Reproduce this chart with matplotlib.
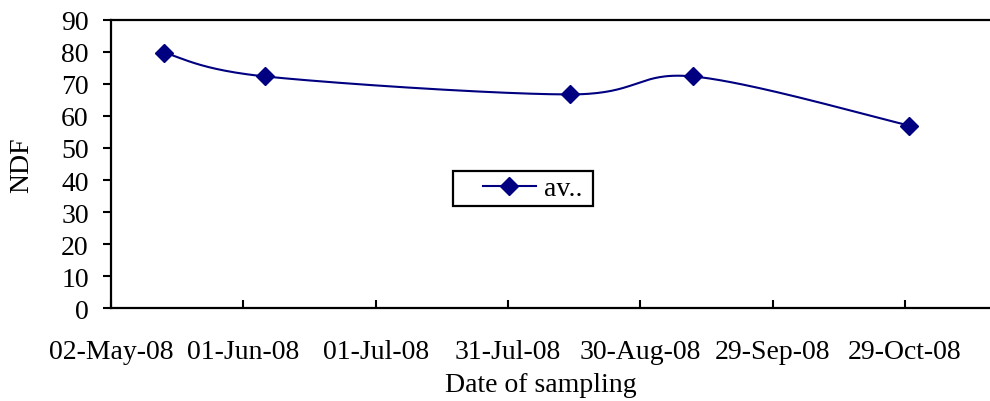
import datetime as dt
import numpy as np
import matplotlib
matplotlib.use("Agg")
import matplotlib.pyplot as plt
import matplotlib.dates as mdates
from matplotlib.patches import Rectangle
from matplotlib.lines import Line2D

# ---- data ----
sample_dates = ["2008-05-14", "2008-06-06", "2008-08-14", "2008-09-11", "2008-10-30"]
ndf_values = [79.7, 72.3, 66.7, 72.3, 57.0]
series_label = "av.."
tick_start = "2008-05-02"
tick_step_days = 30
n_ticks = 7
y_ticks = [0, 10, 20, 30, 40, 50, 60, 70, 80, 90]

plt.rcParams['font.family'] = ['Liberation Serif', 'DejaVu Serif']
navy = "#000080"
fs = 20

fig = plt.figure(figsize=(9.9, 4.02), dpi=100)
ax = fig.add_axes([111/990, (402-309.3)/402, (990-111)/990, (309.3-20.7)/402])

x = mdates.date2num([dt.datetime.fromisoformat(d) for d in sample_dates])
y = np.array(ndf_values, dtype=float)
t0 = mdates.date2num(dt.datetime.fromisoformat(tick_start))
ticks = [t0 + i * tick_step_days for i in range(n_ticks)]

ax.set_xlim(t0, t0 + (990 - 111) / 132.3 * tick_step_days)
ax.set_ylim(0, 90)
ax.set_xticks(ticks)
ax.xaxis.set_major_formatter(mdates.DateFormatter("%d-%b-%y"))
ax.set_yticks(y_ticks)

# Excel-style smoothed line computed in display space
fig.canvas.draw()
disp = ax.transData.transform(np.column_stack([x, y]))
P = np.vstack([disp[0], disp, disp[-1]])
curve = []
for i in range(1, len(P) - 2):
    p0, p1, p2, p3 = P[i - 1], P[i], P[i + 1], P[i + 2]
    c1 = p1 + (p2 - p0) / 6.0
    c2 = p2 - (p3 - p1) / 6.0
    tt = np.linspace(0, 1, 60)[:, None]
    seg = ((1 - tt) ** 3) * p1 + 3 * ((1 - tt) ** 2) * tt * c1 + 3 * (1 - tt) * tt ** 2 * c2 + tt ** 3 * p2
    curve.append(seg)
curve = np.vstack(curve)
curve_data = ax.transData.inverted().transform(curve)
ax.plot(curve_data[:, 0], curve_data[:, 1], color=navy, lw=1.5, zorder=3)
ax.plot(x, y, linestyle="none", marker="D", markersize=9.5, color=navy, zorder=4)

# spines and ticks
for s in ["left", "bottom", "top"]:
    ax.spines[s].set_linewidth(1.6)
ax.spines["right"].set_visible(False)
ax.tick_params(axis="x", direction="in", length=6, width=1.5, pad=22, labelsize=fs)
ax.tick_params(axis="y", direction="out", length=6, width=1.5, pad=10, labelsize=fs)
ax.set_ylabel("NDF", fontsize=fs)
ax.yaxis.set_label_coords(-0.087, 0.5)
ax.set_xlabel("Date of sampling", fontsize=fs)
ax.xaxis.set_label_coords((541 - 111) / 879, -0.222)

# legend box and legend
fig.patches.append(Rectangle((452.7/990, (402-206.7)/402), (593.3-452.7)/990, (206.7-172.3)/402,
                             transform=fig.transFigure, fill=False, edgecolor="black", lw=1.6))
handle = Line2D([], [], color=navy, lw=1.5, marker="D", markersize=9.5)
fig.legend([handle], [series_label], loc="center right",
           bbox_to_anchor=(602/990, (402-189.5)/402), frameon=False,
           fontsize=fs, handlelength=1.9, handletextpad=0.3, borderpad=0.2)

fig.savefig("out.png", dpi=100)
